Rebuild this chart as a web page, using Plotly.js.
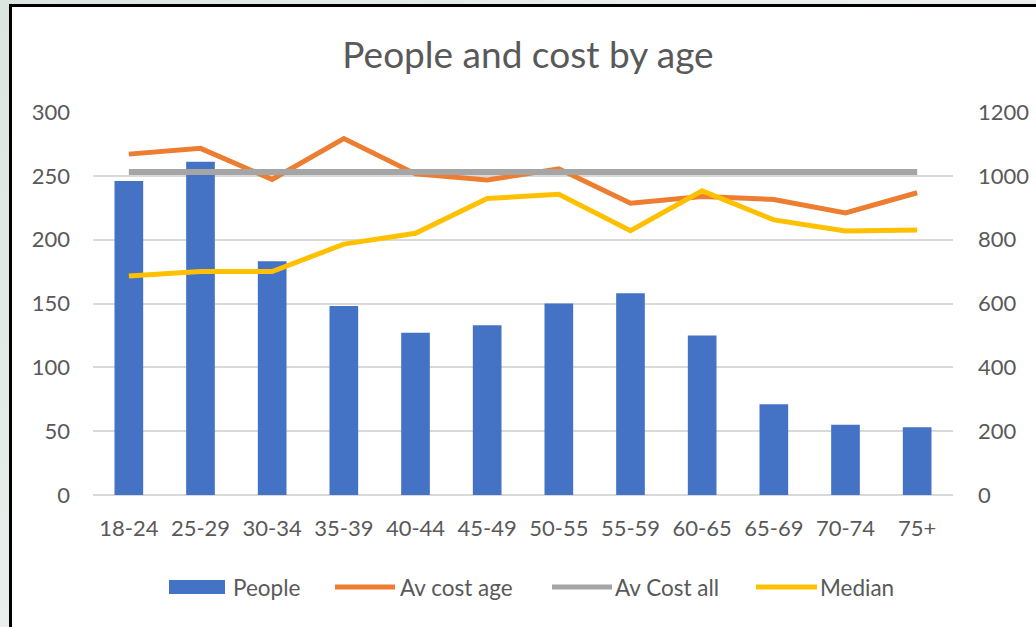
<!DOCTYPE html>
<html>
<head>
<meta charset="utf-8">
<script src="https://cdn.plot.ly/plotly-3.0.1.min.js"></script>
<style>
  html, body { margin: 0; padding: 0; }
  body { width: 1036px; height: 627px; overflow: hidden; position: relative;
         background: linear-gradient(135deg, #dbe6e0 0%, #e9efec 40%, #eef2f0 100%); }
  #frame { position: absolute; left: 9px; top: 4px; right: -10px; bottom: -10px;
           background: #ffffff; border-left: 3px solid #000; border-top: 3px solid #000; }
  #chart { position: absolute; left: 0; top: 0; width: 1036px; height: 627px; }
</style>
</head>
<body>
<div id="frame"></div>
<div id="chart"></div>
<script>
// Age bands
const ageBands = ["18-24", "25-29", "30-34", "35-39", "40-44", "45-49",
                  "50-55", "55-59", "60-65", "65-69", "70-74", "75+"];
// Number of people per band (left axis)
const people = [246, 261, 183, 148, 127, 133, 150, 158, 125, 71, 55, 53];
// Average cost per band (right axis)
const avCostAge = [1068, 1086, 989, 1117, 1006, 987, 1022, 914, 935, 926, 884, 947];
// Average cost across everyone (right axis)
const avCostAll = [1012, 1012, 1012, 1012, 1012, 1012, 1012, 1012, 1012, 1012, 1012, 1012];
// Median cost per band (right axis)
const median = [686, 700, 700, 786, 820, 929, 942, 828, 953, 862, 827, 830];

const leftTicks = [0, 50, 100, 150, 200, 250, 300];
const rightTicks = [0, 200, 400, 600, 800, 1000, 1200];

const COL = { people: "#4472C4", age: "#ED7D31", all: "#A5A5A5", median: "#FFC000" };
const TXT = "#595959";
const FONT = "Lato, 'Open Sans', sans-serif";

const W = 1036, H = 627;
const M = { l: 93, r: 83, t: 112, b: 132 };
const PW = W - M.l - M.r, PH = H - M.t - M.b;
const px = v => (v - M.l) / PW;          // page pixel -> paper x
const py = v => (H - M.b - v) / PH;      // page pixel -> paper y

const traces = [
  { type: "bar", x: ageBands, y: people, name: "People", yaxis: "y",
    marker: { color: COL.people }, showlegend: false },
  { type: "scatter", mode: "lines", x: ageBands, y: avCostAge, name: "Av cost age", yaxis: "y2",
    line: { color: COL.age, width: 5 }, showlegend: false },
  { type: "scatter", mode: "lines", x: ageBands, y: avCostAll, name: "Av Cost all", yaxis: "y2",
    line: { color: COL.all, width: 6 }, showlegend: false },
  { type: "scatter", mode: "lines", x: ageBands, y: median, name: "Median", yaxis: "y2",
    line: { color: COL.median, width: 5 }, showlegend: false }
];

// Legend drawn below the axis: swatches + labels
const legendItems = [
  { label: "People",      kind: "rect", color: COL.people, x0: 169, x1: 225, tx: 231 },
  { label: "Av cost age", kind: "line", color: COL.age,    x0: 335, x1: 395, tx: 398 },
  { label: "Av Cost all", kind: "line", color: COL.all,    x0: 552, x1: 612, tx: 613 },
  { label: "Median",      kind: "line", color: COL.median, x0: 756, x1: 817, tx: 818 }
];
const legendY = 587;
const shapes = [], annotations = [];
legendItems.forEach(it => {
  if (it.kind === "rect") {
    shapes.push({ type: "rect", xref: "paper", yref: "paper",
      x0: px(it.x0), x1: px(it.x1), y0: py(legendY + 7), y1: py(legendY - 7),
      fillcolor: it.color, line: { width: 0 } });
  } else {
    shapes.push({ type: "line", xref: "paper", yref: "paper",
      x0: px(it.x0), x1: px(it.x1), y0: py(legendY), y1: py(legendY),
      line: { color: it.color, width: 5 } });
  }
  annotations.push({ xref: "paper", yref: "paper", x: px(it.tx), y: py(legendY),
    xanchor: "left", yanchor: "middle", showarrow: false, text: it.label,
    font: { family: FONT, size: 22.5, color: TXT } });
});

const layout = {
  width: W, height: H,
  margin: M,
  paper_bgcolor: "rgba(0,0,0,0)",
  plot_bgcolor: "rgba(0,0,0,0)",
  font: { family: FONT, size: 22, color: TXT },
  title: { text: "People and cost by age", font: { family: FONT, size: 37, color: TXT },
           x: 528 / W, xref: "container", xanchor: "center",
           y: 1 - 55 / H, yref: "container", yanchor: "middle" },
  bargap: 0.6,
  showlegend: false,
  xaxis: { type: "category", showgrid: false, showline: false, zeroline: false,
           ticks: "", ticklabelstandoff: 18, tickfont: { family: FONT, size: 22, color: TXT } },
  yaxis: { range: [0, 300], tickvals: leftTicks, showgrid: true, gridcolor: "#D9D9D9", gridwidth: 2,
           zeroline: true, zerolinecolor: "#D9D9D9", zerolinewidth: 2, showline: false,
           ticks: "", ticklabelstandoff: 22, tickfont: { family: FONT, size: 22, color: TXT } },
  yaxis2: { range: [0, 1200], tickvals: rightTicks, overlaying: "y", side: "right",
            showgrid: false, zeroline: false, showline: false,
            ticks: "", ticklabelstandoff: 24, tickfont: { family: FONT, size: 22, color: TXT } },
  shapes: shapes,
  annotations: annotations
};

Plotly.newPlot("chart", traces, layout, { staticPlot: true, displayModeBar: false });
</script>
</body>
</html>
